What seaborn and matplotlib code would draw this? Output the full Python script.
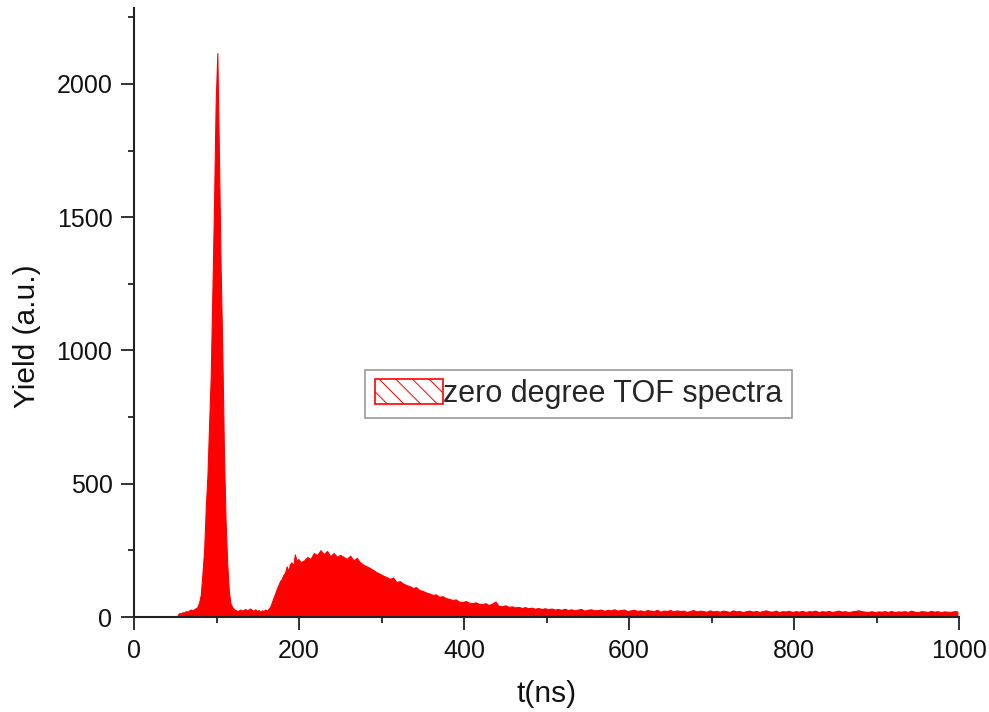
import numpy as np
import pandas as pd
import seaborn as sns
import matplotlib.pyplot as plt
from matplotlib.patches import Patch
from matplotlib.ticker import MultipleLocator

# ---- data ----
# fine bins (2 ns) from 52 to 200 ns
fine_start, fine_stop, fine_width = 52, 200, 2
fine_counts = [8, 15, 14, 18, 17, 22, 20, 25, 28, 24, 30, 33, 38, 55, 85, 165,
               250, 410, 530, 720, 900, 1220, 1550, 1930, 2116, 1720, 1310, 1000,
               620, 360, 200, 95, 50, 38, 30, 26, 22, 25, 28, 24, 27, 30, 25, 28,
               32, 26, 24, 29, 22, 26, 20, 25, 23, 28, 24, 30, 38, 55, 72, 88,
               105, 120, 135, 142, 158, 165, 190, 172, 198, 205, 192, 235, 210, 218]
# coarse bins (4 ns) from 200 to 1000 ns
coarse_start, coarse_stop, coarse_width = 200, 1000, 4
coarse_counts = [
    206, 212, 225, 218, 240, 232, 251, 236, 248, 228, 240, 226, 233,
    225, 218, 230, 212, 222, 205, 196, 190, 184, 176, 168, 162, 155,
    150, 143, 148, 131, 135, 126, 120, 116, 109, 112, 101, 98,
    92, 88, 83, 85, 76, 78, 71, 68, 64, 66, 58, 56, 60,
    54, 52, 55, 50, 48, 52, 45, 50, 58, 42, 40, 44, 38,
    40, 36, 38, 34, 37, 33, 35, 31, 34, 30, 33, 29,
    32, 28, 30, 27, 31, 26, 29, 25, 28, 30, 24, 27, 29, 25, 26, 28, 23, 27, 25, 29, 24, 26, 28, 22, 25,
    27, 23, 25, 21, 26, 24, 22, 27, 20, 24, 23, 26, 21, 25, 22, 24, 19, 23, 26, 21, 24, 22, 20, 25, 21,
    23, 20, 24, 22, 19, 25, 21, 23, 18, 22, 24, 20, 23, 19, 22, 25, 21, 20, 24, 18, 22, 21, 23, 19, 22,
    20, 23, 19, 22, 21, 24, 18, 22, 20, 23, 19, 21, 24, 20, 22, 18, 21, 23, 25, 22, 20, 19, 22, 18, 21,
    20, 22, 19, 23, 18, 21, 20, 22, 19, 24, 20, 18, 22, 21, 19, 23, 20, 22, 18, 21, 20, 19, 22, 21]

legend_label = "zero degree TOF spectra"
x_label = "t(ns)"
y_label = "Yield (a.u.)"

edges = np.concatenate([np.arange(fine_start, fine_stop, fine_width),
                        np.arange(coarse_start, coarse_stop + 1, coarse_width)])
centers = (edges[:-1] + edges[1:]) / 2
counts = np.array(fine_counts + coarse_counts, dtype=float)
df = pd.DataFrame({"t": centers, "yield": counts})

# ---- style ----
sns.set_theme(style="ticks")
plt.rcParams["font.family"] = ["Liberation Sans", "DejaVu Sans"]
plt.rcParams["hatch.linewidth"] = 0.7
plt.rcParams["hatch.color"] = "#ff7070"

fig = plt.figure(figsize=(9.89, 7.12), dpi=100)
ax = fig.add_axes([0.1355, 0.1334, 0.8342, 0.8554])

sns.histplot(data=df, x="t", weights="yield", bins=[float(e) for e in edges],
             element="poly", fill=True, color="red", alpha=1, linewidth=0.8,
             edgecolor="red", ax=ax)

ax.set_xlim(0, 1000)
ax.set_ylim(0, 2285)
ax.xaxis.set_major_locator(MultipleLocator(200))
ax.xaxis.set_minor_locator(MultipleLocator(100))
ax.yaxis.set_major_locator(MultipleLocator(500))
ax.yaxis.set_minor_locator(MultipleLocator(250))

for s in ["top", "right"]:
    ax.spines[s].set_visible(False)
for s in ["left", "bottom"]:
    ax.spines[s].set_linewidth(1.5)
    ax.spines[s].set_color("#222222")

ax.tick_params(which="major", direction="out", length=9.5, width=1.3,
               color="#222222", labelsize=18, pad=6, labelcolor="#111111")
ax.tick_params(which="minor", direction="out", length=4.5, width=1.3, color="#222222")

ax.set_xlabel(x_label, fontsize=21.5, color="#111111")
ax.set_ylabel(y_label, fontsize=21.5, color="#111111")
ax.xaxis.set_label_coords(0.5, -0.103)
ax.xaxis.label.set_va("top")
ax.yaxis.set_label_coords(-0.113, 0.461)

handle = Patch(facecolor="white", edgecolor="red", hatch="\\\\", linewidth=1.2)
leg = ax.legend([handle], [legend_label], loc="center",
                bbox_to_anchor=(0.539, 0.366), fontsize=22, frameon=True,
                fancybox=False, framealpha=1, edgecolor="#999999",
                handlelength=2.25, handleheight=0.85, handletextpad=0.0,
                borderpad=0.3, borderaxespad=0)
leg.get_frame().set_linewidth(1.2)

fig.savefig("out.png", dpi=100)
